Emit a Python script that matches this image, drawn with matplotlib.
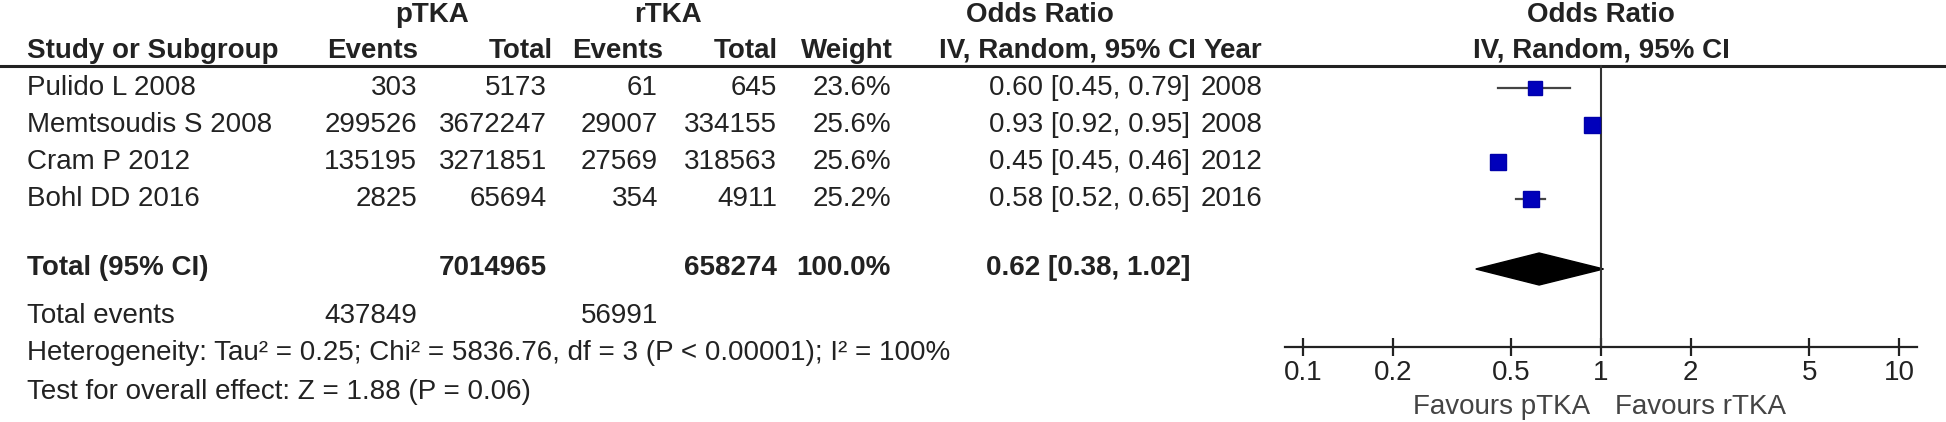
import matplotlib.pyplot as plt

plt.rcParams['font.family'] = ['Liberation Sans', 'DejaVu Sans']

# dados do forest plot
studies = ["Pulido L 2008", "Memtsoudis S 2008", "Cram P 2012", "Bohl DD 2016"]
ev_p = [303, 299526, 135195, 2825]
tot_p = [5173, 3672247, 3271851, 65694]
ev_r = [61, 29007, 27569, 354]
tot_r = [645, 334155, 318563, 4911]
weight = [23.6, 25.6, 25.6, 25.2]
odds = [0.60, 0.93, 0.45, 0.58]
ci_lo = [0.45, 0.92, 0.45, 0.52]
ci_hi = [0.79, 0.95, 0.46, 0.65]
years = [2008, 2008, 2012, 2016]

tot_p_all = 7014965
tot_r_all = 658274
ev_p_all = 437849
ev_r_all = 56991
pooled = 0.62
pooled_lo = 0.38
pooled_hi = 1.02

heterog = "Heterogeneity: Tau² = 0.25; Chi² = 5836.76, df = 3 (P < 0.00001); I² = 100%"
overall = "Test for overall effect: Z = 1.88 (P = 0.06)"

ticks = [0.1, 0.2, 0.5, 1, 2, 5, 10]
tick_labels = ["0.1", "0.2", "0.5", "1", "2", "5", "10"]

fig = plt.figure(figsize=(19.46, 4.22), dpi=100)

# eixo de texto em coordenadas de pixel
ax = fig.add_axes([0, 0, 1, 1])
ax.set_xlim(0, 1946)
ax.set_ylim(422, 0)
ax.axis('off')

txt = '#222222'
fs = 20
rows_y = [88, 125, 162, 199]
cols = [417, 547, 658, 777, 891, 1190, 1262]

# cabecalho
ax.text(432, 15, "pTKA", ha='center', va='center', fontsize=fs, weight='bold', color=txt)
ax.text(668, 15, "rTKA", ha='center', va='center', fontsize=fs, weight='bold', color=txt)
ax.text(1040, 15, "Odds Ratio", ha='center', va='center', fontsize=fs, weight='bold', color=txt)
ax.text(1601, 15, "Odds Ratio", ha='center', va='center', fontsize=fs, weight='bold', color=txt)

heads = ["Events", "Total", "Events", "Total", "Weight", "IV, Random, 95% CI", "Year"]
head_x = [418, 553, 663, 778, 893, 1196, 1262]
ax.text(27, 51, "Study or Subgroup", ha='left', va='center', fontsize=fs, weight='bold', color=txt)
for h, x in zip(heads, head_x):
    ax.text(x, 51, h, ha='right', va='center', fontsize=fs, weight='bold', color=txt)
ax.text(1601, 51, "IV, Random, 95% CI", ha='center', va='center', fontsize=fs, weight='bold', color=txt)

ax.plot([0, 1946], [66, 66], color='#222222', lw=2.2)

# linhas dos estudos
for i, y in enumerate(rows_y):
    vals = [str(ev_p[i]), str(tot_p[i]), str(ev_r[i]), str(tot_r[i]),
            f"{weight[i]:.1f}%",
            f"{odds[i]:.2f} [{ci_lo[i]:.2f}, {ci_hi[i]:.2f}]",
            str(years[i])]
    ax.text(27, y, studies[i], ha='left', va='center', fontsize=fs, color=txt)
    for v, x in zip(vals, cols):
        ax.text(x, y, v, ha='right', va='center', fontsize=fs, color=txt)

# total
ax.text(27, 268, "Total (95% CI)", ha='left', va='center', fontsize=fs, weight='bold', color=txt)
ax.text(cols[1], 268, str(tot_p_all), ha='right', va='center', fontsize=fs, weight='bold', color=txt)
ax.text(cols[3], 268, str(tot_r_all), ha='right', va='center', fontsize=fs, weight='bold', color=txt)
ax.text(cols[4], 268, f"{sum(weight):.1f}%", ha='right', va='center', fontsize=fs, weight='bold', color=txt)
ax.text(cols[5], 268, f"{pooled:.2f} [{pooled_lo:.2f}, {pooled_hi:.2f}]", ha='right', va='center',
        fontsize=fs, weight='bold', color=txt)

ax.text(27, 316, "Total events", ha='left', va='center', fontsize=fs, color=txt)
ax.text(cols[0], 316, str(ev_p_all), ha='right', va='center', fontsize=fs, color=txt)
ax.text(cols[2], 316, str(ev_r_all), ha='right', va='center', fontsize=fs, color=txt)
ax.text(27, 353, heterog, ha='left', va='center', fontsize=fs, color=txt)
ax.text(27, 392, overall, ha='left', va='center', fontsize=fs, color=txt)

# forest plot
x0, x1 = 1285, 1917
ax2 = fig.add_axes([x0 / 1946, 0, (x1 - x0) / 1946, 1])
ax2.patch.set_alpha(0)
ax2.set_xscale('log')
ax2.set_xlim(10 ** -1.0604, 10 ** 1.0604)
ax2.set_ylim(422, 0)
ax2.set_yticks([])
ax2.minorticks_off()
for s in ['top', 'left', 'right']:
    ax2.spines[s].set_visible(False)
ax2.spines['bottom'].set_position(('data', 347))
ax2.spines['bottom'].set_linewidth(1.6)
ax2.spines['bottom'].set_color('#222222')
ax2.set_xticks(ticks)
ax2.set_xticklabels(tick_labels)
ax2.tick_params(axis='x', which='major', direction='inout', length=13, width=1.6,
                pad=3, labelsize=fs, color='#222222', labelcolor='#222222')

ax2.plot([1, 1], [66, 347], color='#333333', lw=1.5)

for i, y in enumerate(rows_y):
    ax2.plot([ci_lo[i], ci_hi[i]], [y, y], color='#444444', lw=1.6)
    ax2.plot(odds[i], y, marker='s', ms=weight[i] * 0.45, color='#0000BB',
             markeredgecolor='#0000AA', linestyle='none')

ax2.fill([pooled_lo, pooled, pooled_hi, pooled], [269, 253, 269, 285], color='black')

fig.text(1590 / 1946, 1 - 407 / 422, "Favours pTKA", fontsize=fs, color='#444444',
         ha='right', va='center')
fig.text(1615 / 1946, 1 - 407 / 422, "Favours rTKA", fontsize=fs, color='#444444',
         ha='left', va='center')

fig.savefig("out.png", dpi=100)
